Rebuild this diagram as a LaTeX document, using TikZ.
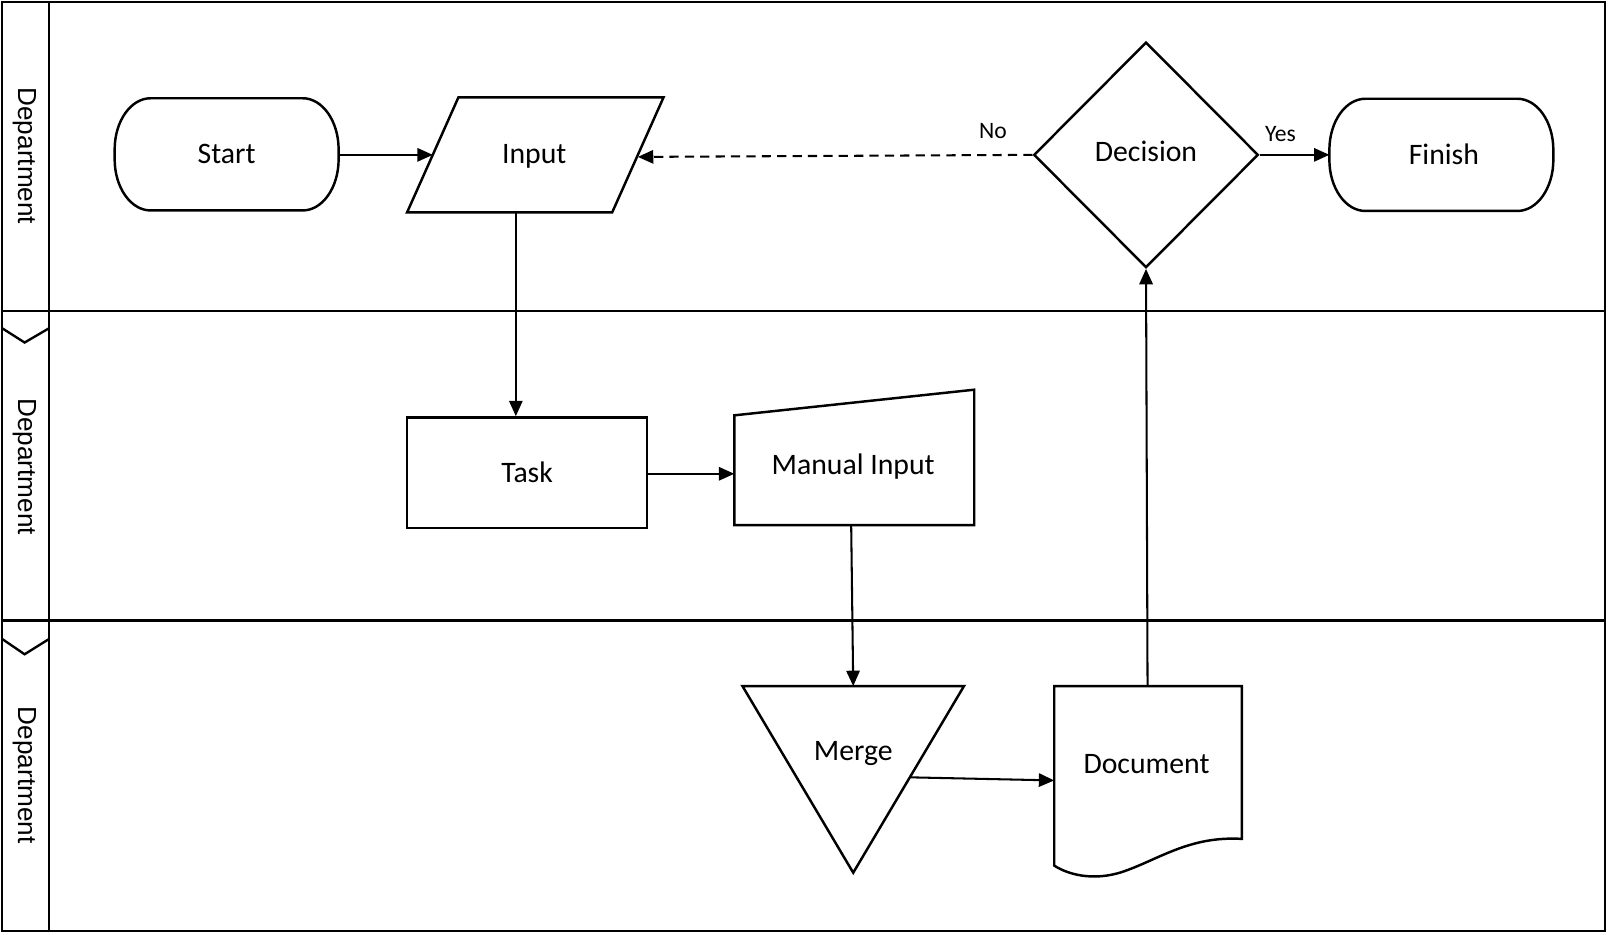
\documentclass[tikz,border=0pt]{standalone}
\usepackage{fontspec}
\setmainfont{Carlito}
\newfontfamily\deptfont{Liberation Sans}
\usetikzlibrary{arrows.meta,calc,shapes.geometric}

\newcommand\stadiumoutline[1]{%
  \draw[shapeline] ($(#1.north west)+(35,0)$) -- ($(#1.north east)+(-35,0)$)
    .. controls ($(#1.north east)+(-16,0)$) and ($(#1.north east)+(0,22)$) .. ($(#1.north east)+(0,50)$)
    -- ($(#1.south east)+(0,-50)$)
    .. controls ($(#1.south east)+(0,-22)$) and ($(#1.south east)+(-16,0)$) .. ($(#1.south east)+(-35,0)$)
    -- ($(#1.south west)+(35,0)$)
    .. controls ($(#1.south west)+(16,0)$) and ($(#1.south west)+(0,-22)$) .. ($(#1.south west)+(0,-50)$)
    -- ($(#1.north west)+(0,50)$)
    .. controls ($(#1.north west)+(0,22)$) and ($(#1.north west)+(16,0)$) .. cycle;}

\begin{document}
\begin{tikzpicture}[x=1pt,y=-1pt]
\tikzset{
  shapeline/.style={draw=black,line width=2.4pt},
  frameline/.style={draw=black,line width=2.3pt},
  conn/.style={draw=black,line width=2pt,-{Triangle[length=15pt,width=13pt]}},
  dashconn/.style={conn,dash pattern=on 9pt off 6pt},
  lbl/.style={font=\fontsize{29}{33}\selectfont,inner sep=0pt,text height=18.6pt,text depth=0pt},
  smalllbl/.style={font=\fontsize{23}{27}\selectfont,inner sep=0pt,text height=14.7pt,text depth=0pt},
  dept/.style={font=\deptfont\fontsize{25.5}{30}\selectfont,rotate=-90,inner sep=0pt},
  terminal/.style={lbl,minimum width=218pt,minimum height=109pt},
}
\useasboundingbox (0,0) rectangle (1568,911);

% lanes
\draw[frameline] (2,2) rectangle (1565,908);
\draw[frameline] (48,2) -- (48,908);
\draw[frameline] (2,303) -- (1565,303);
\draw[frameline] (2,605) -- (1565,605);
\draw[frameline] (2,320) -- (24,334) -- (48,320);
\draw[frameline] (2,623) -- (24,638) -- (48,623);
\node[dept] (d1) at (24,152) {Department};
\node[dept] (d2) at (24,455) {Department};
\node[dept] (d3) at (24,756) {Department};

% shapes
\node[terminal] (start) at (221,150.5) {Start};
\stadiumoutline{start}
\node[terminal] (finish) at (1405.5,151) {\hspace*{5pt}Finish};
\stadiumoutline{finish}

\draw[shapeline] (447,95) -- (647,95) -- (597,207) -- (397,207) -- cycle;
\node[lbl] (input) at (521,150) {Input};

\node[diamond,aspect=1,shapeline,lbl,minimum width=219pt,minimum height=220pt] (decision) at (1117.5,151) {\raisebox{3pt}{Decision}};

\node[lbl,shapeline,minimum width=234pt,minimum height=108pt] (task) at (514,461) {Task};

\draw[shapeline] (716,405) -- (950,380) -- (950,512) -- (716,512) -- cycle;
\node[lbl] (manual) at (832,453) {Manual Input};

\draw[shapeline] (724,669) -- (940,669) -- (832,851) -- cycle;
\node[lbl] (merge) at (832,732) {Merge};

\draw[shapeline] (1028,669) -- (1211,669) -- (1211,818)
  .. controls (1160,815) and (1130,838) .. (1095,850)
  .. controls (1065,860) and (1040,852) .. (1028,844) -- cycle;
\node[lbl] (document) at (1118,745) {Document};

% edge points
\coordinate (inputW) at (422,151);
\coordinate (inputE) at (622,153);
\coordinate (inputS) at (503,207);
\coordinate (manualW) at (716,462);
\coordinate (manualS) at (830,512);
\coordinate (mergeN) at (832,669);
\coordinate (mergeE) at (888,758);
\coordinate (documentW) at (1028,761);
\coordinate (documentN) at (1119,669);

% connectors
\draw[conn] (start.east |- inputW) -- (inputW);
\draw[conn] (inputS) -- (inputS |- task.north);
\draw[conn] (task.east |- manualW) -- (manualW);
\draw[conn] (manualS) -- (mergeN);
\draw[conn] (mergeE) -- (documentW);
\draw[conn] (documentN) -- (decision.south);
\draw[dashconn] (decision.west) -- node[smalllbl,pos=0.1,above=15pt] (nolbl) {No} (inputE);
\draw[conn] (decision.east) -- node[smalllbl,pos=0.3,above=12pt] (yeslbl) {Yes} (finish.west);
\end{tikzpicture}
\end{document}
